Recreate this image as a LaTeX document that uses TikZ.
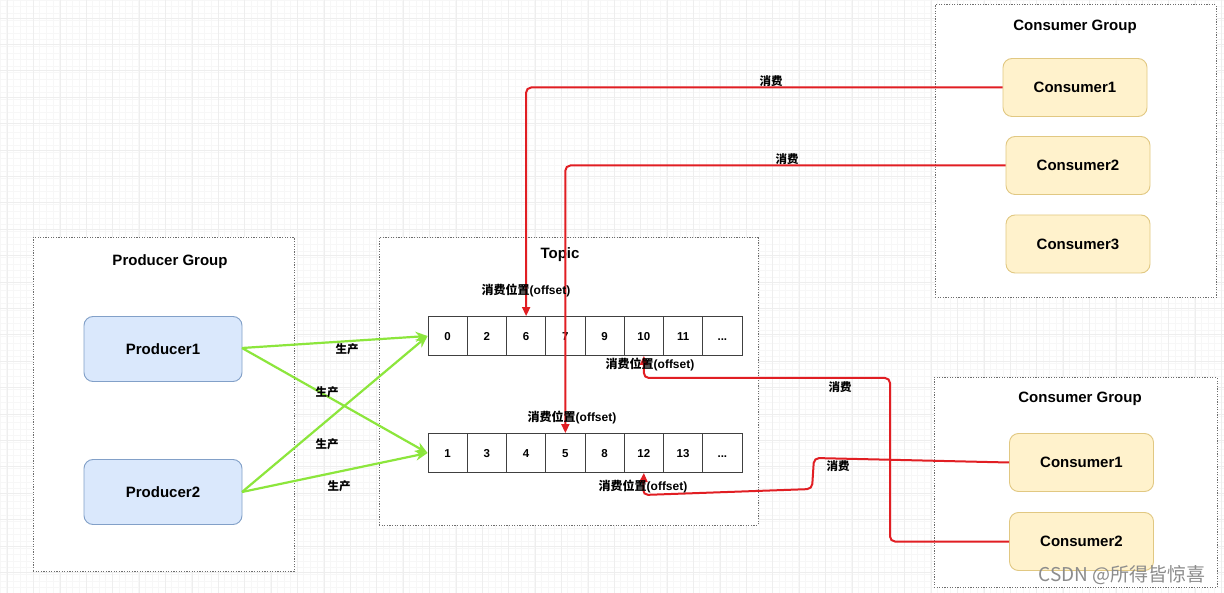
\documentclass[tikz,border=0pt]{standalone}
\usepackage{fontspec}
\setmainfont{Liberation Sans}
\newfontfamily\cjk{Noto Sans CJK SC}
\usetikzlibrary{arrows.meta}
\newcommand\mydots{...}
\definecolor{prodfill}{RGB}{218,232,252}
\definecolor{proddraw}{RGB}{130,160,200}
\definecolor{consfill}{RGB}{255,242,204}
\definecolor{consdraw}{RGB}{225,200,130}
\definecolor{myred}{RGB}{225,30,35}
\definecolor{mygreen}{RGB}{140,230,60}
\definecolor{gridmin}{RGB}{247,247,247}
\definecolor{gridmaj}{RGB}{238,238,238}
\definecolor{grpdraw}{RGB}{110,110,110}
\tikzset{
  grp/.style={draw=grpdraw, dash pattern=on 1.2pt off 1.4pt, fill=white, line width=1pt, inner sep=0pt},
  ttl/.style={font=\bfseries\fontsize{15}{18}\selectfont},
  prod/.style={draw=proddraw, fill=prodfill, rounded corners=9pt, minimum width=158pt, minimum height=65pt, line width=0.9pt, font=\bfseries\fontsize{15}{18}\selectfont},
  cons/.style={draw=consdraw, fill=consfill, rounded corners=9pt, minimum width=144pt, minimum height=58pt, line width=0.9pt, font=\bfseries\fontsize{15}{18}\selectfont},
  cell/.style={draw=black!75, line width=0.9pt, minimum width=39.25pt, minimum height=39pt, inner sep=0pt, text height=8.5pt, text depth=0pt, font=\bfseries\fontsize{11.5}{14}\selectfont},
  redline/.style={draw=myred, line width=2pt, rounded corners=5pt, -{Triangle[length=9pt,width=8pt]}},
  greenline/.style={draw=mygreen, line width=2.2pt, -{Stealth[length=12pt,width=10pt]}},
  cn/.style={font=\cjk\bfseries\fontsize{11.5}{14}\selectfont, inner sep=1pt},
  off/.style={font=\bfseries\fontsize{12}{14}\selectfont, inner sep=1pt},
  wm/.style={font=\cjk\fontsize{19}{22}\selectfont, text=black!45}
}
\begin{document}
\begin{tikzpicture}[x=1pt,y=-1pt]
\useasboundingbox (0,0) rectangle (1224,593);
\fill[white] (0,0) rectangle (1224,593);
% background grid
\foreach \g in {0,6.6,...,1224} \draw[gridmin, line width=0.4pt] (\g,0) -- (\g,593);
\foreach \g in {0,6.6,...,593} \draw[gridmin, line width=0.4pt] (0,\g) -- (1224,\g);
\foreach \g in {7,33.4,...,1224} \draw[gridmaj, line width=0.6pt] (\g,0) -- (\g,593);
\foreach \g in {18,44.4,...,593} \draw[gridmaj, line width=0.6pt] (0,\g) -- (1224,\g);

% group boxes
\node[grp, minimum width=261pt, minimum height=334pt] (pg) at (163.5,404.5) {};
\node[grp, minimum width=379pt, minimum height=287pt] (tp) at (568.5,381.5) {};
\node[grp, minimum width=281pt, minimum height=293pt] (cg1) at (1075.5,151.5) {};
\node[grp, minimum width=283pt, minimum height=210pt] (cg2) at (1075.5,482.5) {};

\node[ttl] (pgt) at (170,262) {Producer Group};
\node[ttl] (tpt) at (560,255) {Topic};
\node[ttl] (cg1t) at (1075,27) {Consumer Group};
\node[ttl] (cg2t) at (1080,399) {Consumer Group};

% producers and consumers
\node[prod] (p1) at (163,349) {Producer1};
\node[prod] (p2) at (163,492) {Producer2};
\node[cons] (c1) at (1075,87.5) {Consumer1};
\node[cons] (c2) at (1078,165.5) {Consumer2};
\node[cons] (c3) at (1078,244) {Consumer3};
\node[cons] (d1) at (1081.5,462.5) {Consumer1};
\node[cons] (d2) at (1081.5,541.5) {Consumer2};

% topic cells
\foreach \v [count=\i from 0] in {0,2,6,7,9,10,11,\mydots}
  \node[cell] (t\i) at ({428+39.25*(\i+0.5)},336) {\v};
\foreach \v [count=\i from 0] in {1,3,4,5,8,12,13,\mydots}
  \node[cell] (b\i) at ({428+39.25*(\i+0.5)},453) {\v};

% producing arrows
\coordinate (p1o) at (242,348);
\coordinate (p2o) at (242,492);
\draw[greenline] (p1o) -- (t0.west);
\draw[greenline] (p1o) -- (b0.west);
\draw[greenline] (p2o) -- (t0.west);
\draw[greenline] (p2o) -- (b0.west);
\node[cn] (g1) at (347,349) {生产};
\node[cn] (g2) at (327,392) {生产};
\node[cn] (g3) at (327,444) {生产};
\node[cn] (g4) at (339,486) {生产};

% consuming arrows
\draw[redline] (c1.west) -| (t2.north);
\draw[redline] (c2.west) -| (b3.north);
\coordinate (k1) at (890,378);
\draw[redline] (d2.west) -| (k1) -| (t5.south);
\coordinate (m1) at (814,458);
\coordinate (m2) at (812,489);
\coordinate (m3) at (643,495);
\draw[redline] (d1.west) -- (m1) -- (m2) -- (m3) -- (b5.south);

\node[cn] (r1) at (771,81) {消费};
\node[cn] (r2) at (787,159) {消费};
\node[cn] (r3) at (840,387) {消费};
\node[cn] (r4) at (838,466) {消费};

\node[off] (o1) at (526,291) {{\cjk 消费位置}(offset)};
\node[off] (o2) at (650,365) {{\cjk 消费位置}(offset)};
\node[off] (o3) at (572,418) {{\cjk 消费位置}(offset)};
\node[off] (o4) at (643,487) {{\cjk 消费位置}(offset)};

\node[wm] (wmk) at (1122,575) {CSDN @所得皆惊喜};
\end{tikzpicture}
\end{document}
